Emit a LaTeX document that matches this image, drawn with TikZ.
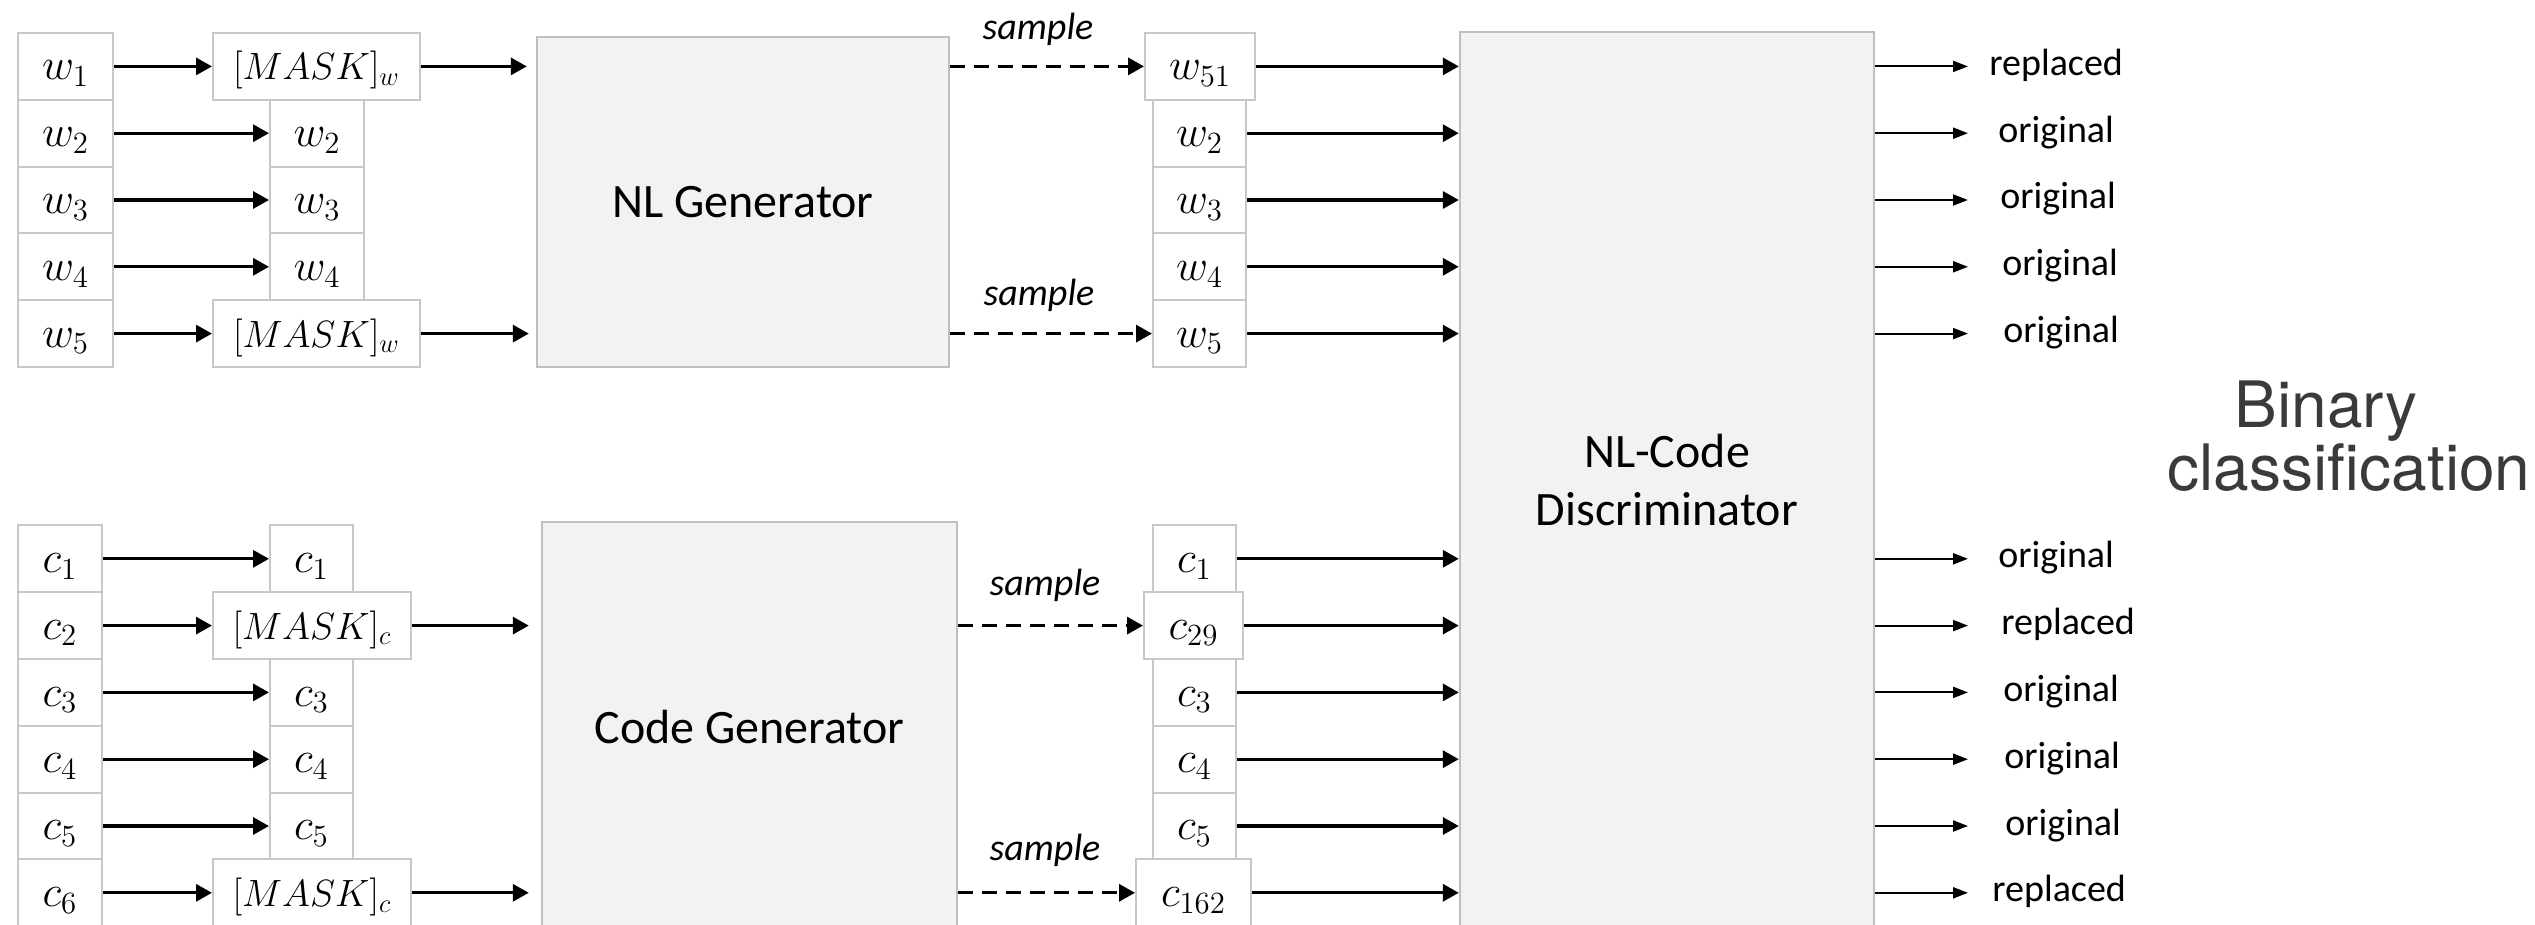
\RequirePackage{fix-cm}
\documentclass[tikz,border=0pt]{standalone}
\usepackage[no-math]{fontspec}
\setmainfont{Carlito}
\newfontfamily\headfont{TeX Gyre Heros}
\usetikzlibrary{arrows.meta}

\definecolor{boxline}{HTML}{C8C8C8}
\definecolor{panelline}{HTML}{BFBFBF}
\definecolor{panel}{HTML}{F2F2F2}
\definecolor{headink}{HTML}{3A3A3A}

\newcommand{\tokfont}{\fontsize{22}{26}\selectfont}
\newcommand{\maskfont}{\fontsize{19}{23}\selectfont}
\newcommand{\genfont}{\fontsize{24}{29}\selectfont}
\newcommand{\labfont}{\fontsize{19}{23}\selectfont}
\newcommand{\bigfont}{\headfont\fontsize{32}{38}\selectfont}

\tikzset{
  tok/.style={draw=boxline, line width=1pt, fill=white, inner sep=0pt,
    minimum height=33.4pt, text height=18pt, text depth=4.4pt, font=\tokfont},
  masktok/.style={tok, font=\maskfont},
  gen/.style={draw=panelline, line width=1.2pt, fill=panel, inner sep=0pt, font=\genfont},
  arr/.style={line width=1.6pt, -{Triangle[length=8pt,width=8.5pt]}},
  darr/.style={arr, dash pattern=on 7.5pt off 4.5pt},
  outarr/.style={line width=1pt, -{Triangle[length=7.5pt,width=5.5pt]}},
  outlab/.style={anchor=base west, inner sep=0pt, font=\labfont},
  smp/.style={anchor=base, inner sep=0pt, font=\labfont\itshape},
  big/.style={anchor=base, inner sep=0pt, font=\bigfont, text=headink}
}

\begin{document}
\begin{tikzpicture}[x=0.5pt, y=-0.5pt]
\useasboundingbox (0,0) rectangle (2535,925);
\fill[white] (0,0) rectangle (2535,925);
\clip (0,0) rectangle (2535,925);

% ---------- natural-language branch ----------
\node[tok, minimum width=47.5pt] (wa1) at (65.5,66.4)  {$w_1$};
\node[tok, minimum width=47.5pt] (wa2) at (65.5,133.2) {$w_2$};
\node[tok, minimum width=47.5pt] (wa3) at (65.5,200)   {$w_3$};
\node[tok, minimum width=47.5pt] (wa4) at (65.5,266.8) {$w_4$};
\node[tok, minimum width=47.5pt] (wa5) at (65.5,333.6) {$w_5$};

\node[masktok, minimum width=103.5pt] (wb1) at (316.5,66.4)  {$[MASK]_w$};
\node[tok, minimum width=47pt]        (wb2) at (317,133.2)   {$w_2$};
\node[tok, minimum width=47pt]        (wb3) at (317,200)     {$w_3$};
\node[tok, minimum width=47pt]        (wb4) at (317,266.8)   {$w_4$};
\node[masktok, minimum width=103.5pt] (wb5) at (316.5,333.6) {$[MASK]_w$};

\node[gen, minimum width=206pt, minimum height=165pt] (nlg) at (743,202) {NL Generator};

\node[tok, minimum width=55pt]   (wc1) at (1200,66.4)    {$w_{51}$};
\node[tok, minimum width=46.5pt] (wc2) at (1199.5,133.2) {$w_2$};
\node[tok, minimum width=46.5pt] (wc3) at (1199.5,200)   {$w_3$};
\node[tok, minimum width=46.5pt] (wc4) at (1199.5,266.8) {$w_4$};
\node[tok, minimum width=46.5pt] (wc5) at (1199.5,333.6) {$w_5$};

% ---------- code branch ----------
\node[tok, minimum width=42pt] (ca1) at (60,558.8) {$c_1$};
\node[tok, minimum width=42pt] (ca2) at (60,625.6) {$c_2$};
\node[tok, minimum width=42pt] (ca3) at (60,692.4) {$c_3$};
\node[tok, minimum width=42pt] (ca4) at (60,759.2) {$c_4$};
\node[tok, minimum width=42pt] (ca5) at (60,826)   {$c_5$};
\node[tok, minimum width=42pt] (ca6) at (60,892.8) {$c_6$};

\node[tok, minimum width=41.5pt]   (cb1) at (311.5,558.8) {$c_1$};
\node[masktok, minimum width=99pt] (cb2) at (312,625.6)   {$[MASK]_c$};
\node[tok, minimum width=41.5pt]   (cb3) at (311.5,692.4) {$c_3$};
\node[tok, minimum width=41.5pt]   (cb4) at (311.5,759.2) {$c_4$};
\node[tok, minimum width=41.5pt]   (cb5) at (311.5,826)   {$c_5$};
\node[masktok, minimum width=99pt] (cb6) at (312,892.8)   {$[MASK]_c$};

\node[gen, minimum width=207.5pt, minimum height=205pt] (cdg) at (749.5,727) {Code Generator};

\node[tok, minimum width=41.5pt] (cc1) at (1194.5,558.8) {$c_1$};
\node[tok, minimum width=49.5pt] (cc2) at (1193.5,625.6) {$c_{29}$};
\node[tok, minimum width=41.5pt] (cc3) at (1194.5,692.4) {$c_3$};
\node[tok, minimum width=41.5pt] (cc4) at (1194.5,759.2) {$c_4$};
\node[tok, minimum width=41.5pt] (cc5) at (1194.5,826)   {$c_5$};
\node[tok, minimum width=57.5pt] (cc6) at (1193.5,892.8) {$c_{162}$};

% ---------- discriminator ----------
\node[gen, minimum width=207pt, minimum height=464pt] (disc) at (1667,496) {};
\node[inner sep=0pt, align=center, font=\genfont] (disctext) at (1667,480) {NL-Code\\Discriminator};

% ---------- masking arrows ----------
\foreach \i in {1,...,5} { \draw[arr] (wa\i) -- (wb\i); }
\foreach \i in {1,...,6} { \draw[arr] (ca\i) -- (cb\i); }

\draw[arr, shorten >=4.5pt] (wb1.east) -- (wb1.east -| nlg.west);
\draw[arr, shorten >=3.5pt] (wb5.east) -- (wb5.east -| nlg.west);
\draw[arr, shorten >=6pt]   (cb2.east) -- (cb2.east -| cdg.west);
\draw[arr, shorten >=6pt]   (cb6.east) -- (cb6.east -| cdg.west);

% ---------- sampling ----------
\draw[darr] (nlg.east |- wc1) -- (wc1);
\draw[darr] (nlg.east |- wc5) -- (wc5);
\draw[darr] (cdg.east |- cc2) -- (cc2);
\draw[darr] (cdg.east |- cc6) -- (cc6);
\node[smp] (s1) at (1038,40)  {sample};
\node[smp] (s2) at (1039,305) {sample};
\node[smp] (s3) at (1045,595) {sample};
\node[smp] (s4) at (1045,860) {sample};

% ---------- into the discriminator ----------
\foreach \i in {1,...,5} { \draw[arr] (wc\i) -- (wc\i -| disc.west); }
\foreach \i in {1,...,6} { \draw[arr] (cc\i) -- (cc\i -| disc.west); }

% ---------- per-token decisions (label baseline sits 9px under its arrow) ----------
\foreach \i/\y/\x/\t in {
  1/66.4/1989/replaced, 2/133.2/1998/original, 3/200/2000/original,
  4/266.8/2002/original, 5/333.6/2003/original,
  6/558.8/1998/original, 7/625.6/2001/replaced, 8/692.4/2003/original,
  9/759.2/2004/original, 10/826/2005/original, 11/892.8/1992/replaced} {
  \node[outlab] (lab\i) at (\x,\y+9) {\t};
  \coordinate (tip\i) at (1968,\y);
  \draw[outarr] (disc.east |- tip\i) -- (tip\i);
}

\node[big] (bin1) at (2326,427) {Binary};
\node[big] (bin2) at (2349,490) {classification};
\end{tikzpicture}
\end{document}
